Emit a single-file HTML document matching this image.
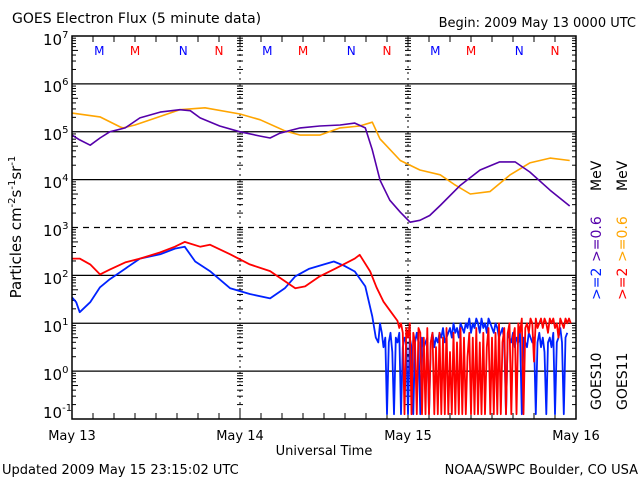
<!DOCTYPE html>
<html><head><meta charset="utf-8"><style>
body{margin:0;background:#fff;width:640px;height:480px;overflow:hidden}
text{font-family:"DejaVu Sans","Liberation Sans",sans-serif}
</style></head><body>
<svg id="c" width="640" height="480" viewBox="0 0 640 480"></svg>
<script>
const purpleHours=[0,1.1,2.6,4,5.4,7.6,9.7,12.6,15.4,16.9,18.3,21.1,24,26.9,28.3,29.7,32.6,35.4,38.3,40.4,41.9,42.9,44,45.4,46.9,48.3,49.7,51.1,52.6,55.4,58.3,61.1,63.3,65.4,68.3,71.1];
const purpleVals=[4.93,4.83,4.72,4.87,5.0,5.08,5.29,5.41,5.46,5.44,5.29,5.12,5.0,4.91,4.87,4.97,5.08,5.12,5.14,5.18,5.08,4.62,3.99,3.57,3.32,3.11,3.15,3.25,3.46,3.87,4.2,4.37,4.37,4.16,3.78,3.45];
const orangeHours=[0,4,6.9,7.3,9,15.4,19,24,26.9,30.4,32.6,35.4,38.3,41.1,42.9,44,46.9,49.7,52.6,54.6,56.9,59.7,62.6,65.4,68.3,71.1];
const orangeVals=[5.39,5.31,5.10,5.08,5.14,5.46,5.50,5.37,5.25,5.02,4.93,4.93,5.08,5.12,5.20,4.85,4.40,4.20,4.10,3.90,3.70,3.75,4.10,4.35,4.45,4.40];
const redHours=[0,1.1,2.6,4,5.4,7.6,9.7,12.6,14.7,16.1,18.3,19.7,22.6,25.4,28.3,30.4,31.9,33.3,35.4,37.6,40.4,41.1,42.6,43.5,44.5,45.5,46.5];
const redVals=[2.35,2.35,2.23,2.02,2.12,2.27,2.35,2.48,2.60,2.70,2.60,2.64,2.44,2.23,2.09,1.88,1.73,1.77,1.98,2.14,2.35,2.43,2.08,1.75,1.45,1.25,1.05];
const redNoise=[0.9,1.0,0.8,-0.9,0.9,0.7,1.0,-0.9,0.8,0.6,-0.9,0.9,0.8,-0.9,0.7,-0.9,0.9,-0.9,0.6,0.8,-0.9,0.5,-0.9,0.8,-0.9,0.7,-0.9,0.9,-0.9,0.4,-0.9,0.8,-0.9,0.6,-0.9,0.9,-0.9,0.7,-0.9,0.3,0.8,-0.9,0.7,-0.9,0.9,-0.9,0.6,-0.9,0.8,-0.9,0.5,0.9,-0.9,0.7,-0.9,0.8,-0.9,1.0,-0.9,0.6,0.9,-0.9,0.8,1.0,-0.9,0.7,0.9,-0.9,1.0,0.8,1.1,-0.9,0.9,1.0,0.8,1.1,1.0,0.2,1.1,0.9,1.0,1.1,0.9,1.1,1.0,0.8,1.1,1.0,1.1,0.9,1.0,0.7,1.1,1.0,0.9,1.1,1.0,1.1,1.0];
const blueHours=[0,0.6,1.1,2.6,4,5.4,7.6,9.7,12.6,14.7,16.1,17.6,19.7,22.6,25.4,28.3,30.4,31.9,33.9,36.0,37.4,38.9,40.4,41.9,42.9,43.4];
const blueVals=[1.54,1.44,1.23,1.44,1.75,1.92,2.14,2.35,2.44,2.56,2.60,2.29,2.09,1.73,1.61,1.52,1.73,1.98,2.14,2.23,2.29,2.20,2.08,1.77,1.14,0.70];
const blueNoise=[0.6,1.0,0.8,0.5,0.7,-0.9,0.6,0.8,0.4,-0.9,0.7,0.6,0.8,-0.9,0.5,0.7,0.6,-0.9,0.7,0.5,-0.9,0.6,0.8,0.6,-0.9,0.7,0.5,0.6,0.7,-0.9,0.6,0.8,0.5,0.7,0.6,0.8,0.7,0.9,0.6,0.7,0.8,0.9,0.7,1.0,0.8,0.9,0.7,1.0,0.9,0.8,1.0,0.9,1.1,0.8,1.0,0.9,1.1,1.0,0.8,1.1,0.9,1.0,0.8,1.1,1.0,0.9,0.8,1.0,0.9,0.7,0.8,0.9,0.6,-0.9,0.8,0.7,0.6,0.8,0.5,0.7,0.6,0.8,-0.9,0.7,0.6,0.5,0.8,0.7,0.6,0.7,-0.9,0.6,0.8,0.5,0.7,0.4,-0.9,0.6,0.7,0.5,0.8,-0.9,0.6,0.7,0.9,0.6,-0.9,0.7,0.8];
const yTicks=[7,6,5,4,3,2,1,0,-1];
const dayLabels=["May 13","May 14","May 15","May 16"];
const markLetters=["M","M","N","N"];
const markHours=[3.9,9.0,15.9,21.0];

const svg=document.getElementById('c');
const NS="http://www.w3.org/2000/svg";
const X0=72,X1=576,Y0=36,Y1=419;
const xs=h=>X0+h*(X1-X0)/72;
const ys=L=>Y0+(7-Math.max(-0.95,L))*(Y1-Y0)/8;
function el(t,a,p){const e=document.createElementNS(NS,t);for(const k in a)e.setAttribute(k,a[k]);(p||svg).appendChild(e);return e;}
function txt(s,x,y,a){const e=el('text',Object.assign({x:x,y:y,'font-size':13},a||{}));e.textContent=s;return e;}

yTicks.forEach(L=>{
  if(L<7&&L>-1){const g=el('line',{x1:X0,x2:X1,y1:ys(L),y2:ys(L),stroke:'#000','stroke-width':1.2});
  
  
  if(L===3)g.setAttribute('stroke-dasharray','6,5');}
  if(L>-1){for(let m=2;m<=9;m++){const yy=ys(L-1+Math.log10(m));
    el('line',{x1:X0,x2:X0+(m===5?6:4),y1:yy,y2:yy,stroke:'#000'});
    el('line',{x1:X1,x2:X1-4,y1:yy,y2:yy,stroke:'#000'});
    [240,408].forEach(xx=>el('line',{x1:xx-3,x2:xx+3,y1:yy,y2:yy,stroke:'#000'}));}}
});
[240,408].forEach(xx=>{
  const d=el('line',{x1:xx,x2:xx,y1:Y0,y2:Y1,stroke:'#000','stroke-dasharray':'2,4'});
  
  
});
for(let h=0;h<=72;h+=3){const big=h%24===0;
  el('line',{x1:xs(h),x2:xs(h),y1:Y1,y2:Y1-(big?10:6),stroke:'#000'});
  el('line',{x1:xs(h),x2:xs(h),y1:Y0,y2:Y0+(big?10:6),stroke:'#000'});}
dayLabels.forEach((d,i)=>{const t=txt(d,xs(i*24),440,{'text-anchor':'middle'});
  
  });
for(let day=0;day<3;day++)markLetters.forEach((c,i)=>{
  const t=txt(c,xs(day*24+markHours[i]),55,{'text-anchor':'middle',fill:i%2===0?'#0000ff':'#ff0000','font-size':12});
  
  });

function series(hours,vals,color,name,w){
  const pts=hours.map((h,i)=>xs(h).toFixed(1)+','+ys(vals[i]).toFixed(1)).join(' ');
  const p=el('polyline',{points:pts,fill:'none',stroke:color,'stroke-width':w||2,'stroke-linejoin':'round'});
  
  
}
function noiseHours(start,n){return Array.from({length:n},(_,i)=>start+i*0.25);}
const rH=redHours.concat(noiseHours(46.75,redNoise.length)),rV=redVals.concat(redNoise);
const bH=blueHours.concat(noiseHours(43.75,blueNoise.length)),bV=blueVals.concat(blueNoise);
series(bH,bV,'#0022ff','goes10-ge2mev-line',1.8);
series(rH,rV,'#ff0000','goes11-ge2mev-line',1.8);
series(orangeHours,orangeVals,'#ffa500','goes11-ge06mev-line',1.6);
series(purpleHours,purpleVals,'#5500aa','goes10-ge06mev-line',1.6);

const fr=el('rect',{x:X0,y:Y0,width:X1-X0,height:Y1-Y0,fill:'none',stroke:'#000','stroke-width':1.5});


</script>
<svg width="640" height="480" style="position:absolute;left:0;top:0">
<g font-family="DejaVu Sans, Liberation Sans, sans-serif" font-size="13">
<text x="12" y="23" font-size="14">GOES Electron Flux (5 minute data)</text>
<text x="636" y="27" text-anchor="end">Begin: 2009 May 13 0000 UTC</text>
<g font-size="15">
<text x="43" y="45">10<tspan dy="-7" font-size="10">7</tspan></text>
<text x="43" y="92">10<tspan dy="-7" font-size="10">6</tspan></text>
<text x="43" y="140">10<tspan dy="-7" font-size="10">5</tspan></text>
<text x="43" y="188">10<tspan dy="-7" font-size="10">4</tspan></text>
<text x="43" y="236">10<tspan dy="-7" font-size="10">3</tspan></text>
<text x="43" y="284">10<tspan dy="-7" font-size="10">2</tspan></text>
<text x="43" y="332">10<tspan dy="-7" font-size="10">1</tspan></text>
<text x="43" y="380">10<tspan dy="-7" font-size="10">0</tspan></text>
<text x="43" y="418">10<tspan dy="-7" font-size="10">-1</tspan></text>
</g>
<text transform="translate(21,227) rotate(-90)" text-anchor="middle" font-size="15">Particles cm<tspan dy="-6" font-size="10">-2</tspan><tspan dy="6">s</tspan><tspan dy="-6" font-size="10">-1</tspan><tspan dy="6">sr</tspan><tspan dy="-6" font-size="10">-1</tspan></text>
<text x="324" y="455" text-anchor="middle">Universal Time</text>
<text x="2" y="474">Updated 2009 May 15 23:15:02 UTC</text>
<text x="638" y="474" text-anchor="end">NOAA/SWPC Boulder, CO USA</text>
<g font-size="14">
<text transform="translate(601,410) rotate(-90)">GOES10</text>
<text transform="translate(601,300) rotate(-90)" fill="#0022ff">&gt;=2</text>
<text transform="translate(601,262) rotate(-90)" fill="#5500aa">&gt;=0.6</text>
<text transform="translate(601,191) rotate(-90)">MeV</text>
</g>
<g font-size="14">
<text transform="translate(627,410) rotate(-90)">GOES11</text>
<text transform="translate(627,300) rotate(-90)" fill="#ff0000">&gt;=2</text>
<text transform="translate(627,262) rotate(-90)" fill="#ffa500">&gt;=0.6</text>
<text transform="translate(627,191) rotate(-90)">MeV</text>
</g>
</g></svg>
</body></html>
